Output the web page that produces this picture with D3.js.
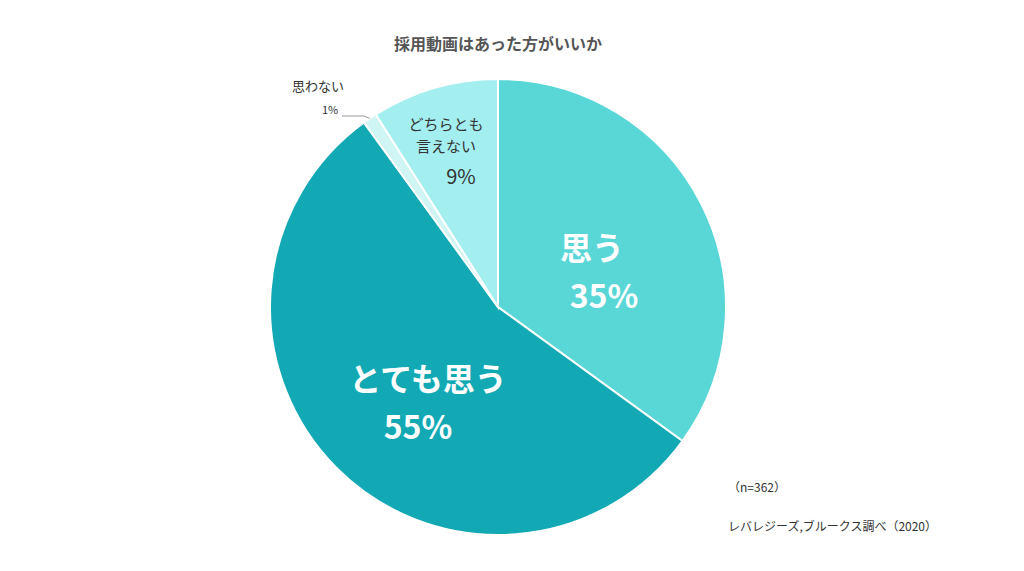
<!DOCTYPE html>
<html><head><meta charset="utf-8">
<script src="https://cdn.jsdelivr.net/npm/d3@7"></script>
<style>body{margin:0;background:#fff}text{font-family:"Noto Sans CJK JP",sans-serif}</style>
</head><body>
<script>
var categories = ["思う", "とても思う", "思わない", "どちらとも言えない"];
var values = [35, 55, 1, 9];
var colors = ["#59d6d6", "#12a9b4", "#cff5f5", "#a3eeef"];

var width = 1024, height = 571;
var cx = 498, cy = 307, r = 228;

var svg = d3.select("body").append("svg").attr("width", width).attr("height", height);

svg.append("text").attr("x", 498).attr("y", 50).attr("text-anchor", "middle")
  .attr("font-size", 16).attr("font-weight", "bold").attr("fill", "#555")
  .text("採用動画はあった方がいいか");

var pie = d3.pie().sort(null).value(d => d);
var arcs = pie(values);
var arc = d3.arc().innerRadius(0).outerRadius(r);

var g = svg.append("g").attr("transform", "translate(" + cx + "," + cy + ")");
g.selectAll("path").data(arcs).enter().append("path")
  .attr("d", arc)
  .attr("fill", (d, i) => colors[i])
  .attr("stroke", "#fff").attr("stroke-width", 2);

// inner labels
function label(lines, x, y, size, fill, weight) {
  var t = svg.append("text").attr("text-anchor", "middle").attr("fill", fill)
    .attr("font-size", size).attr("font-weight", weight);
  lines.forEach((l, i) => t.append("tspan").attr("x", l[1] + x).attr("y", y + i * l[2]).text(l[0]));
}
label([[categories[0], 0, 0], [values[0] + "%", 12, 48]], 592, 260, 32, "#fff", "bold");
label([["とても思う", 0, 0], [values[1] + "%", -10, 48]], 428, 391, 32, "#fff", "bold");
label([["どちらとも", 0, 0], ["言えない", 0, 22]], 446, 130, 15, "#333", "normal");
svg.append("text").attr("x", 461).attr("y", 184).attr("text-anchor", "middle")
  .attr("font-size", 20).attr("fill", "#333").text(values[3] + "%");

// small slice callout
svg.append("text").attr("x", 292).attr("y", 91).attr("font-size", 13).attr("fill", "#333").text(categories[2]);
svg.append("text").attr("x", 322).attr("y", 114).attr("font-size", 11).attr("fill", "#333").text(values[2] + "%");
var mid = (arcs[2].startAngle + arcs[2].endAngle) / 2;
svg.append("polyline").attr("fill", "none").attr("stroke", "#999").attr("stroke-width", 1)
  .attr("points", [[342, 116], [364, 116], [cx + r * Math.sin(mid), cy - r * Math.cos(mid)]].join(" "));

svg.append("text").attr("x", 728).attr("y", 492).attr("font-size", 12).attr("fill", "#333").text("（n=362）");
svg.append("text").attr("x", 728).attr("y", 531).attr("font-size", 12).attr("fill", "#333").text("レバレジーズ,ブルークス調べ（2020）");
</script>
</body></html>
